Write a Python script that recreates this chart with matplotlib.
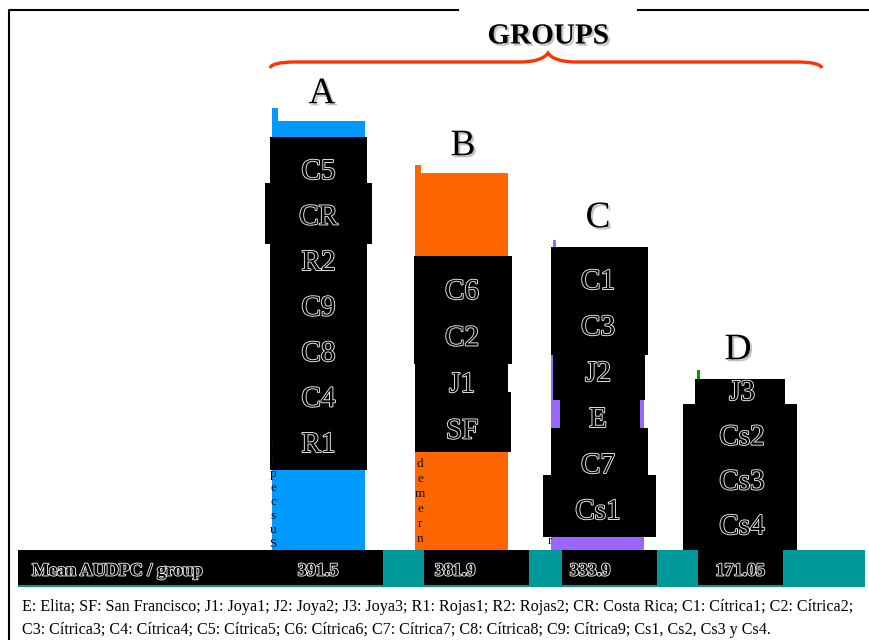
import numpy as np
import matplotlib
matplotlib.use("Agg")
import matplotlib.pyplot as plt
import matplotlib.patheffects as pe
from matplotlib.patches import Rectangle, PathPatch
from matplotlib.path import Path

# === data ===
groups = ["A", "B", "C", "D"]
bar_heights = [429, 377, 303, 146]          # relative bar height (picture units)
members = [
    ["C5", "CR", "R2", "C9", "C8", "C4", "R1"],
    ["C6", "C2", "J1", "SF"],
    ["C1", "C3", "J2", "E", "C7", "Cs1"],
    ["J3", "Cs2", "Cs3", "Cs4"],
]
mean_audpc = ["391.5", "381.9", "333.9", "171.05"]
row_title = "Mean AUDPC / group"
footnote = [
    "E: Elita; SF: San Francisco; J1: Joya1; J2: Joya2; J3: Joya3; R1: Rojas1; R2: Rojas2; "
    "CR: Costa Rica; C1: Cítrica1; C2: Cítrica2;",
    "C3: Cítrica3; C4: Cítrica4; C5: Cítrica5; C6: Cítrica6; C7: Cítrica7; C8: Cítrica8; "
    "C9: Cítrica9; Cs1, Cs2, Cs3 y Cs4.",
]

# === layout / style ===
bar_colors = ["#0099ff", "#ff6600", "#9966ff", "#009900"]
bar_x = [318.5, 462, 598, 742]
bar_w = 93
base = 550
strip_extra = [13, 8, 7, 34]
letter_xy = [(322, 94), (463, 146), (598, 218), (738, 350)]
label_start = [172, 292, 282, 393]
label_step = [45.5, 46.5, 46, 44.7]
boxes = [
    [(270, 367, 137, 183), (265, 372, 183, 244), (270, 367, 244, 470)],
    [(414, 512, 256, 364), (415, 508, 364, 394), (415, 511, 392, 452)],
    [(551, 648, 247, 355), (553, 645, 355, 400), (560, 640, 400, 428),
     (551, 648, 428, 475), (543, 656, 475, 537)],
    [(695, 785, 379, 405), (683, 797, 404, 550)],
]
value_boxes = [(18, 383), (424, 529), (562, 657), (698, 783)]
value_x = [318, 455, 590, 740]

serif = ["Liberation Serif", "DejaVu Serif"]
outline = [pe.Stroke(linewidth=1.3, foreground="#f0f0f0"), pe.Normal()]
shadow = [pe.withSimplePatchShadow(offset=(1.5, -1.5), shadow_rgbFace="#999999", alpha=0.6)]

fig = plt.figure(figsize=(8.7, 6.4), dpi=100)
ax = fig.add_axes([0, 0, 1, 1])
ax.set_xlim(0, 870)
ax.set_ylim(640, 0)
ax.axis("off")

# frame
ax.plot([9, 9, 458], [640, 10, 10], color="black", lw=1.5)
ax.plot([638, 870], [10, 10], color="black", lw=1.5)

# title + brace
ax.text(548, 36, "GROUPS", ha="center", va="center", fontsize=21,
        fontweight="bold", family=serif, path_effects=shadow)
verts = [(270, 68), (272, 62), (295, 62), (520, 62), (542, 62), (548, 53),
         (554, 62), (576, 62), (797, 62), (820, 62), (822, 68)]
codes = [Path.MOVETO, Path.CURVE3, Path.CURVE3, Path.LINETO, Path.CURVE3, Path.CURVE3,
         Path.CURVE3, Path.CURVE3, Path.LINETO, Path.CURVE3, Path.CURVE3]
ax.add_patch(PathPatch(Path(verts, codes), facecolor="none", edgecolor="#ff3300", lw=2.4))

# bars (y axis runs downward, so heights go negative)
ax.bar(bar_x, -np.array(bar_heights), width=bar_w, bottom=base, color=bar_colors,
       align="center")
ax.set_ylim(640, 0)
for i in range(4):
    # thin taller strip on the left edge of each bar
    ax.bar(bar_x[i] - bar_w / 2 + 3, -(bar_heights[i] + strip_extra[i]), width=6 if i < 2 else 3,
           bottom=base, color=bar_colors[i])
    ax.text(letter_xy[i][0], letter_xy[i][1], groups[i], ha="center", va="center",
            fontsize=27, family=serif, path_effects=shadow)

# stacked vertical letters behind boxes
for s, x0, y0, step in [("itpecsuS", 273, 446, 14), ("demern", 420, 464, 15), ("r", 550, 541, 14)]:
    for k, ch in enumerate(s):
        ax.text(x0, y0 + k * step, ch, ha="center", va="center", fontsize=9.5,
                family=serif, color="#111111")

# black boxes with labels
for i in range(4):
    for (x0, x1, y0, y1) in boxes[i]:
        ax.add_patch(Rectangle((x0, y0), x1 - x0, y1 - y0, color="black", lw=0))
    for k, name in enumerate(members[i]):
        ax.text(bar_x[i], label_start[i] + k * label_step[i], name, ha="center", va="center",
                fontsize=21, family=serif, color="black", path_effects=outline)

# bottom band
ax.add_patch(Rectangle((18, 550), 847, 37, color="#009999", lw=0))
for (x0, x1) in value_boxes:
    ax.add_patch(Rectangle((x0, 550), x1 - x0, 35, color="black", lw=0))
ax.text(32, 571, row_title, ha="left", va="center", fontsize=13, family=serif,
        fontweight="bold", color="black", path_effects=outline)
for i in range(4):
    ax.text(value_x[i], 571, mean_audpc[i], ha="center", va="center", fontsize=13,
            family=serif, fontweight="bold", color="black", path_effects=outline)

# footnote
for k, line in enumerate(footnote):
    ax.text(22, 607 + k * 23, line, ha="left", va="center", fontsize=11.6,
            family=serif, color="black")

fig.savefig("out.png", dpi=100)
